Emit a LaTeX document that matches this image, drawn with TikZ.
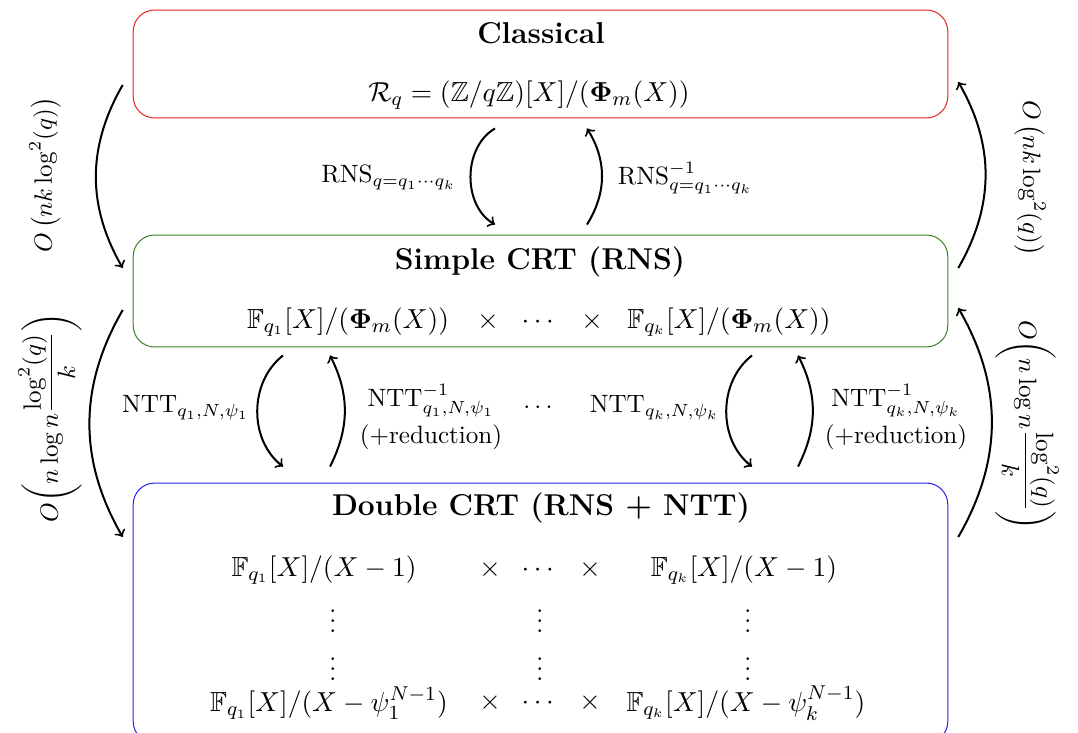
\documentclass[tikz,border=0pt]{standalone}
\usepackage{amsmath,amssymb,bm}
\usepackage{xcolor}
\definecolor{boxred}{RGB}{235,35,35}
\definecolor{boxgreen}{RGB}{60,130,40}
\definecolor{boxblue}{RGB}{35,35,240}

\tikzset{
  layer/.style={draw, rounded corners=0.3cm, minimum width=11.41cm, inner sep=0pt},
  heading/.style={font=\large\bfseries},
  ring/.style={font=\fontsize{11}{13}\selectfont},
  flow/.style={->, thick},
  cost/.style={inner sep=0pt},
}

\begin{document}
\begin{tikzpicture}[x=0.014cm, y=-0.014cm]
            \useasboundingbox (0,0) rectangle (1078,733);

            % Classical box
            \node[layer, draw=boxred, minimum height=1.512cm] (classical) at (540.5,64) {};
            \node[heading] (classicalhead) at (541,33) {Classical};
            \node[ring] (classicalring) at (529,95) {$\mathcal{R}_q = (\mathbb{Z}/q\mathbb{Z})[X]/(\boldsymbol{\Phi}_m(X))$};

            % Simple CRT box
            \node[layer, draw=boxgreen, minimum height=1.568cm] (simple) at (540.5,291) {};
            \node[heading] (simplehead) at (540,262) {Simple CRT (RNS)};
            \node[ring] (simpleone) at (348,322) {$\mathbb{F}_{q_1}[X]/(\boldsymbol{\Phi}_m(X))$};
            \node[ring] (simpletimesa) at (488,322) {$\times$};
            \node[ring] (simpledots) at (540,322) {$\cdots$};
            \node[ring] (simpletimesb) at (592,322) {$\times$};
            \node[ring] (simplek) at (729,322) {$\mathbb{F}_{q_k}[X]/(\boldsymbol{\Phi}_m(X))$};

            % Double CRT box
            \node[layer, draw=boxblue, minimum height=3.64cm] (double) at (540.5,613) {};
            \node[heading] (doublehead) at (541,508) {Double CRT (RNS + NTT)};
            \node[ring] (firstone) at (324,570) {$\mathbb{F}_{q_1}[X]/(X-1)$};
            \node[ring] (firsttimesa) at (490,570) {$\times$};
            \node[ring] (firstdots) at (540,570) {$\cdots$};
            \node[ring] (firsttimesb) at (590,570) {$\times$};
            \node[ring] (firstk) at (744,570) {$\mathbb{F}_{q_k}[X]/(X-1)$};
            \node[ring] (vdotsa) at (333,614) {$\vdots$};
            \node[ring] (vdotsb) at (540,614) {$\vdots$};
            \node[ring] (vdotsc) at (748,614) {$\vdots$};
            \node[ring] (vdotsd) at (333,662) {$\vdots$};
            \node[ring] (vdotse) at (540,662) {$\vdots$};
            \node[ring] (vdotsf) at (748,662) {$\vdots$};
            \node[ring] (lastone) at (329,703) {$\mathbb{F}_{q_1}[X]/(X-\psi_1^{N-1})$};
            \node[ring] (lasttimesa) at (490,703) {$\times$};
            \node[ring] (lastdots) at (540,703) {$\cdots$};
            \node[ring] (lasttimesb) at (590,703) {$\times$};
            \node[ring] (lastk) at (746,703) {$\mathbb{F}_{q_k}[X]/(X-\psi_k^{N-1})$};

            % RNS arrows between Classical and Simple CRT
            \draw[flow] ([shift={(-45.5,10)}]classical.south) to[bend right=60] ([shift={(-45.5,-10)}]simple.north);
            \draw[flow] ([shift={(46.5,-10)}]simple.north) to[bend right=32] ([shift={(46.5,10)}]classical.south);
            \node[anchor=east] (rnslabel) at (465,178) {$\mathrm{RNS}_{q=q_1\cdots q_k}$};
            \node[anchor=west] (rnsinvlabel) at (609,178) {$\mathrm{RNS}^{-1}_{q=q_1\cdots q_k}$};

            % NTT arrows between Simple CRT and Double CRT
            \draw[flow] ([shift={(-257.5,8)}]simple.south) to[bend right=52] ([shift={(-257.5,-16)}]double.north);
            \draw[flow] ([shift={(-210.5,-16)}]double.north) to[bend right=27] ([shift={(-210.5,8)}]simple.south);
            \draw[flow] ([shift={(211.5,8)}]simple.south) to[bend right=52] ([shift={(211.5,-16)}]double.north);
            \draw[flow] ([shift={(257.5,-16)}]double.north) to[bend right=27] ([shift={(257.5,8)}]simple.south);
            \node[anchor=east] (nttone) at (258,408) {$\mathrm{NTT}_{q_1,N,\psi_1}$};
            \node[align=center] (nttinvone) at (431,417) {$\mathrm{NTT}^{-1}_{q_1,N,\psi_1}$\\[3pt](+reduction)};
            \node (nttdots) at (540,408) {$\cdots$};
            \node[anchor=east] (nttk) at (728,408) {$\mathrm{NTT}_{q_k,N,\psi_k}$};
            \node[align=center] (nttinvk) at (896,417) {$\mathrm{NTT}^{-1}_{q_k,N,\psi_k}$\\[3pt](+reduction)};

            % Outer cost arrows
            \draw[flow] ([shift={(-10,21)}]classical.west) to[bend right=30] ([shift={(-10,-23)}]simple.west);
            \draw[flow] ([shift={(-10,19)}]simple.west) to[bend right=30] ([shift={(-10,-76)}]double.west);
            \draw[flow] ([shift={(10,-23)}]simple.east) to[bend right=30] ([shift={(10,18)}]classical.east);
            \draw[flow] ([shift={(10,-76)}]double.east) to[bend right=30] ([shift={(10,17)}]simple.east);
            \node[cost, rotate=90] (costleftup) at (45,175) {$O\left(nk\log^2(q)\right)$};
            \node[cost, rotate=90] (costleftdown) at (50,418) {$O\biggl(n\log n\dfrac{\log^2(q)}{k}\biggr)$};
            \node[cost, rotate=-90] (costrightup) at (1030,178) {$O\left(nk\log^2(q)\right)$};
            \node[cost, rotate=-90] (costrightdown) at (1027,425) {$O\biggl(n\log n\dfrac{\log^2(q)}{k}\biggr)$};
        \end{tikzpicture}
\end{document}
